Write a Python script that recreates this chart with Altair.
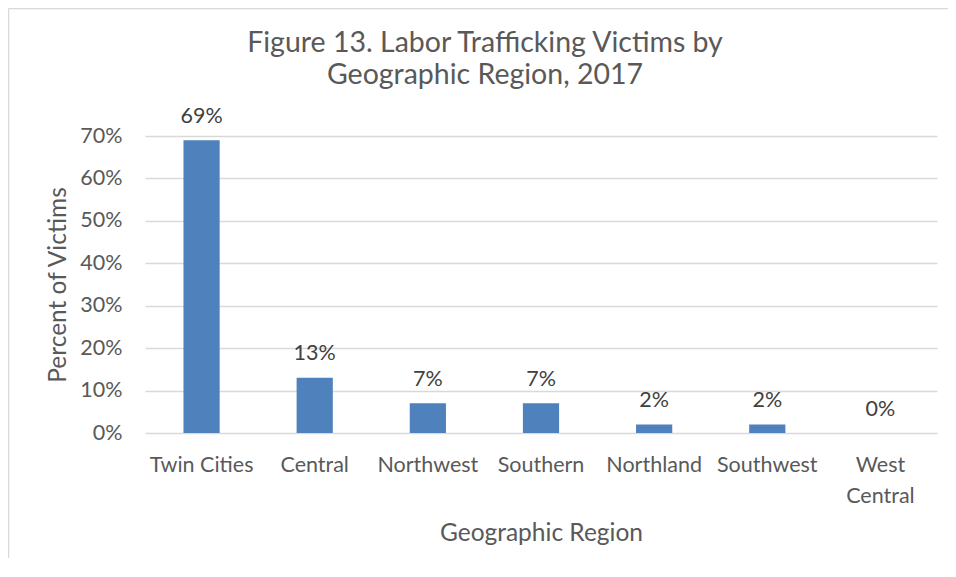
import altair as alt
import pandas as pd

regions = ["Twin Cities", "Central", "Northwest", "Southern", "Northland", "Southwest", "West Central"]
shares = [0.69, 0.13, 0.07, 0.07, 0.02, 0.02, 0.00]
y_ticks = [0, 0.1, 0.2, 0.3, 0.4, 0.5, 0.6, 0.7]
title_lines = ["Figure 13. Labor Trafficking Victims by", "Geographic Region, 2017"]

df = pd.DataFrame({"region": regions, "share": shares})

FONT = "Lato"
GREY = "#595959"
W, H = 792, 297

x_enc = alt.X(
    "region:N",
    sort=regions,
    scale=alt.Scale(paddingInner=0.68, paddingOuter=0.34),
    axis=alt.Axis(
        title="Geographic Region",
        labelAngle=0,
        labelFont=FONT,
        labelFontSize=21.5,
        labelColor=GREY,
        labelBaseline="alphabetic",
        labelPadding=38,
        labelLineHeight=31,
        labelExpr="datum.label == 'West Central' ? ['West', 'Central'] : datum.label",
        ticks=False,
        tickSize=0,
        domain=False,
        titleFont=FONT,
        titleFontSize=24.5,
        titleFontWeight="normal",
        titleColor=GREY,
        titleBaseline="alphabetic",
        titleY=107,
    ),
)
y_enc = alt.Y(
    "share:Q",
    scale=alt.Scale(domain=[0, 0.7]),
    axis=alt.Axis(
        title="Percent of Victims",
        values=y_ticks,
        format=".0%",
        labelFont=FONT,
        labelFontSize=21.5,
        labelColor=GREY,
        labelPadding=23,
        ticks=False,
        tickSize=0,
        domain=False,
        gridColor="#d9d9d9",
        gridWidth=1.5,
        titleFont=FONT,
        titleFontSize=24.5,
        titleFontWeight="normal",
        titleColor=GREY,
        titleBaseline="alphabetic",
        titleX=-80,
    ),
)

base = alt.Chart(df).encode(x=x_enc, y=y_enc)
bars = base.mark_bar(color="#4f81bd")
labels = base.mark_text(
    font=FONT, fontSize=21.5, color="#404040", baseline="alphabetic", dy=-17.5
).encode(text=alt.Text("share:Q", format=".0%"))

one = pd.DataFrame({"k": [0]})
title1 = alt.Chart(one).mark_text(
    text=title_lines[0], font=FONT, fontSize=28.5, color=GREY, baseline="alphabetic", align="center"
).encode(x=alt.value(340), y=alt.value(52 - 136))
title2 = alt.Chart(one).mark_text(
    text=title_lines[1], font=FONT, fontSize=28.5, color=GREY, baseline="alphabetic", align="center"
).encode(x=alt.value(340), y=alt.value(84 - 136))

border_top = alt.Chart(one).mark_rule(color="#d9d9d9", strokeWidth=1.5).encode(
    x=alt.value(-136.5), x2=alt.value(W + 20), y=alt.value(-127.5)
)
border_left = alt.Chart(one).mark_rule(color="#d9d9d9", strokeWidth=1.5).encode(
    x=alt.value(-136.5), y=alt.value(-127.5), y2=alt.value(H + 130)
)

chart = (
    alt.layer(border_top, border_left, bars, labels, title1, title2)
    .properties(
        width=W,
        height=H,
        autosize=alt.AutoSizeParams(type="none"),
        padding={"left": 137, "top": 128, "right": 11, "bottom": 125},
    )
    .configure_view(stroke=None)
)

chart.save("out.html", embed_options={"renderer": "svg", "actions": False})
